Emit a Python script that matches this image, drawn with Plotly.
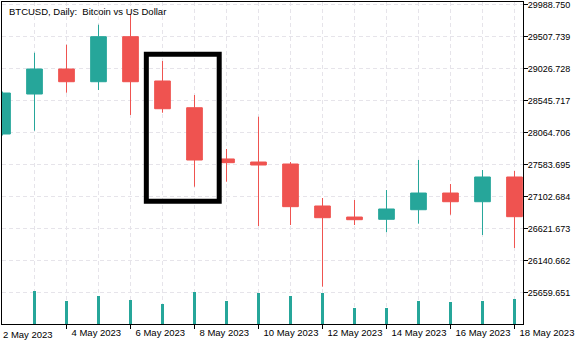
import plotly.graph_objects as go

# Daily BTCUSD candles, 2-18 May 2023
dates = ["2023-05-02", "2023-05-03", "2023-05-04", "2023-05-05", "2023-05-06",
         "2023-05-07", "2023-05-08", "2023-05-09", "2023-05-10", "2023-05-11",
         "2023-05-12", "2023-05-13", "2023-05-14", "2023-05-15", "2023-05-16",
         "2023-05-17", "2023-05-18"]
opens = [28042, 28643, 29019, 28828, 29505, 28839, 28437, 27667, 27621, 27591,
         26960, 26794, 26760, 26904, 27155, 27024, 27396]
highs = [28680, 29264, 29384, 29685, 29850, 29140, 28628, 27817, 28302, 27621,
         27080, 27050, 27200, 27652, 27290, 27501, 27486]
lows = [28020, 28092, 28663, 28703, 28328, 28362, 27250, 27325, 26659, 26674,
        25747, 26674, 26565, 26694, 26829, 26524, 26329]
closes = [28658, 29019, 28828, 29505, 28828, 28422, 27651, 27611, 27576, 26950,
          26784, 26754, 26915, 27155, 27024, 27396, 26799]
tick_volumes = [None, 3300, 2300, 2800, 2400, 2000, 3200, 2300, 3100, 2800,
                3100, 1600, 1600, 2300, 2200, 2300, 2500]

price_ticks = [25659.651, 26140.662, 26621.673, 27102.684, 27583.695,
               28064.706, 28545.717, 29026.728, 29507.739, 29988.750]
date_ticks = dates[2::2]

UP = "#26a69a"
DOWN = "#ef5350"
GRID = "#e6e4ea"
FONT = "Liberation Sans, Arial, sans-serif"

fig = go.Figure()

fig.add_trace(go.Bar(
    x=dates, y=tick_volumes, yaxis="y2",
    marker=dict(color=UP, line=dict(width=0)),
    width=8.1e6, hoverinfo="skip", showlegend=False,
))

fig.add_trace(go.Candlestick(
    x=dates, open=opens, high=highs, low=lows, close=closes,
    increasing=dict(line=dict(color=UP, width=1), fillcolor=UP),
    decreasing=dict(line=dict(color=DOWN, width=1), fillcolor=DOWN),
    whiskerwidth=0, hoverinfo="skip", showlegend=False,
))

# highlight box around the 7-8 May sell-off
fig.add_shape(type="rect", xref="x", yref="y",
              x0="2023-05-06 11:52", x1="2023-05-08 18:32",
              y0=27032, y1=29242,
              line=dict(color="black", width=5), fillcolor="rgba(0,0,0,0)")

fig.add_annotation(text="BTCUSD, Daily:\u00a0 Bitcoin vs US Dollar",
                   xref="paper", yref="paper", x=0, y=1,
                   xanchor="left", yanchor="top", xshift=5, yshift=-2,
                   showarrow=False, font=dict(family=FONT, size=9.5, color="black"))

# first date label sits at the left edge of the chart
fig.add_annotation(text="2 May 2023",
                   xref="paper", yref="paper", x=0, y=0,
                   xanchor="left", yanchor="top", xshift=-1, yshift=-3,
                   showarrow=False, font=dict(family=FONT, size=9.5, color="black"))

grid = dict(showgrid=True, gridcolor=GRID, griddash="4px,3px", gridwidth=1)

fig.update_layout(
    width=586, height=345,
    margin=dict(l=2, r=63, t=2, b=21),
    paper_bgcolor="white", plot_bgcolor="white",
    font=dict(family=FONT, size=9.5, color="black"),
    boxgap=0.3,
    xaxis=dict(
        type="date",
        range=["2023-05-01 23:37", "2023-05-18 06:23"],
        tickvals=date_ticks,
        tickformat="%-d %b %Y", tickangle=0,
        ticks="outside", ticklen=4, tickcolor="black",
        ticklabelposition="outside right", ticklabelshift=4,
        ticklabeloverflow="allow", automargin=False,
        showline=True, linecolor="black", linewidth=1, mirror=True,
        minor=dict(dtick=86400000, tick0="2023-05-02", **grid),
        rangeslider=dict(visible=False),
        zeroline=False, fixedrange=True,
        **grid,
    ),
    yaxis=dict(
        side="right",
        range=[25186.15, 30026.33],
        tickvals=price_ticks, tickformat=".3f",
        ticks="outside", ticklen=4, tickcolor="black",
        tickfont=dict(size=9), ticklabelstandoff=-2,
        ticklabeloverflow="allow", automargin=False,
        showline=True, linecolor="black", linewidth=1, mirror=True,
        zeroline=False, fixedrange=True,
        **grid,
    ),
    yaxis2=dict(
        overlaying="y", range=[0, 32200], visible=False, fixedrange=True,
    ),
)

fig.write_html("out.html")
